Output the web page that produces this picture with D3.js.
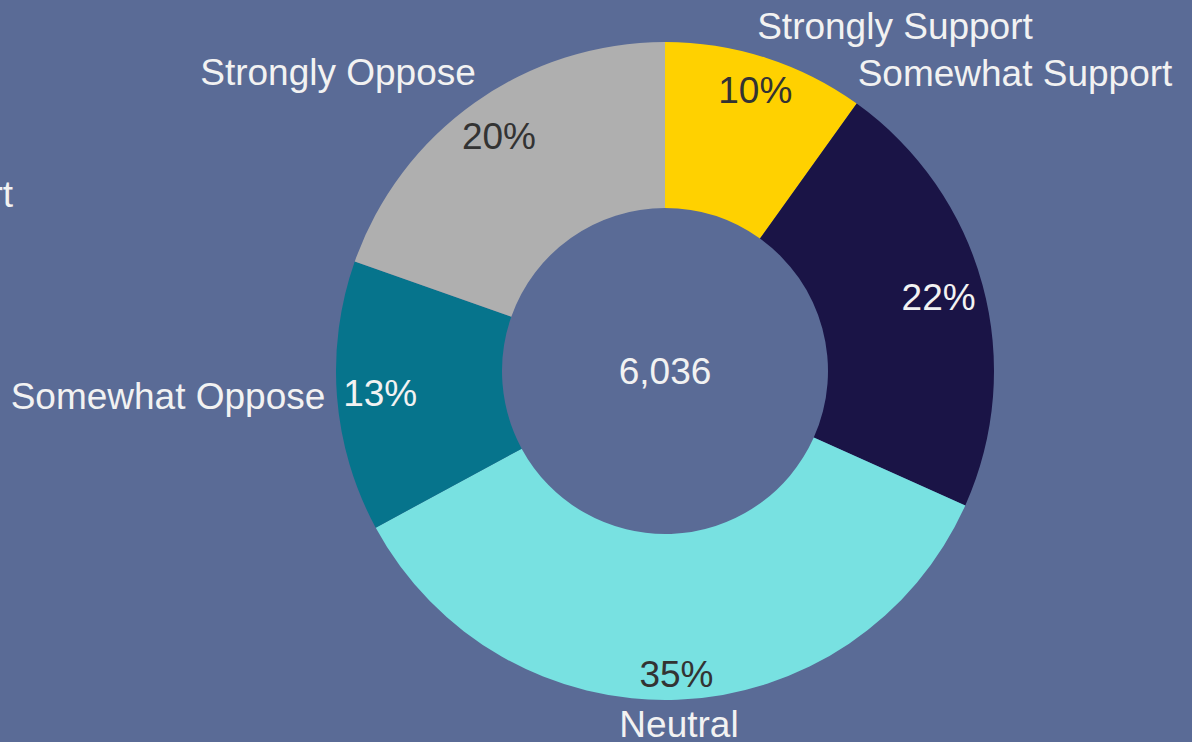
<!DOCTYPE html>
<html>
<head>
<meta charset="utf-8">
<script src="https://cdn.jsdelivr.net/npm/d3@7"></script>
<style>
  html, body { margin: 0; padding: 0; background: #5A6B96; }
  svg { display: block; }
  text { font-family: "Liberation Sans", Arial, sans-serif; }
</style>
</head>
<body>
<svg id="chart" width="1192" height="742"></svg>
<script>
// ---- data ----
const categories = ["Strongly Support", "Somewhat Support", "Neutral", "Somewhat Oppose", "Strongly Oppose"];
const values = [9.9, 21.8, 35.4, 13.3, 19.6];   // shares in %
const colors = ["#FFD100", "#1A1446", "#78E1E1", "#06748C", "#AFAFAF"];
const pctTextColors = ["#333333", "#F2F2F2", "#333333", "#F2F2F2", "#333333"];
const totalLabel = "6,036";
const strayLabel = "Somewhat Support";

// ---- layout ----
const W = 1192, H = 742;
const cx = 665, cy = 371, R = 329, r0 = 163;
const fontSize = 37;
// manual category label placement (offset of text centre / baseline from chart centre)
const catOffsets = {
  "Strongly Support": [230, -332],
  "Somewhat Support": [350, -285],
  "Neutral": [14, 366],
  "Somewhat Oppose": [-497, 38],
  "Strongly Oppose": [-327, -286]
};

const svg = d3.select("#chart");
svg.append("rect").attr("width", W).attr("height", H).attr("fill", "#5A6B96");

const g = svg.append("g").attr("transform", `translate(${cx},${cy})`);

const pie = d3.pie().sort(null).value(d => d.v);
const arcs = pie(categories.map((c, i) => ({ c, v: values[i], i })));
const arc = d3.arc().innerRadius(r0).outerRadius(R);

g.selectAll("path.slice").data(arcs).join("path")
  .attr("class", "slice")
  .attr("d", arc)
  .attr("fill", d => colors[d.data.i]);

// percentage labels: "inside end" placement
const pctG = g.selectAll("text.pct").data(arcs).join("text")
  .attr("class", "pct")
  .attr("text-anchor", "middle")
  .attr("dominant-baseline", "central")
  .attr("font-size", fontSize)
  .attr("fill", d => pctTextColors[d.data.i])
  .text(d => Math.round(d.data.v) + "%");

pctG.each(function(d) {
  const w = this.getComputedTextLength();
  const h = fontSize;
  const a = (d.startAngle + d.endAngle) / 2;
  const dx = Math.sin(a), dy = -Math.cos(a);
  const ext = Math.abs(dx) * w / 2 + Math.abs(dy) * h / 2;
  const rr = R - 5 - ext;
  d3.select(this).attr("x", dx * rr).attr("y", dy * rr);
});

// category labels
g.selectAll("text.cat").data(arcs).join("text")
  .attr("class", "cat")
  .attr("text-anchor", "middle")
  .attr("font-size", fontSize)
  .attr("fill", "#F2F2F2")
  .attr("x", d => catOffsets[d.data.c][0])
  .attr("y", d => catOffsets[d.data.c][1])
  .text(d => d.data.c);

// centre total
g.append("text")
  .attr("text-anchor", "middle")
  .attr("dominant-baseline", "central")
  .attr("font-size", fontSize)
  .attr("fill", "#F2F2F2")
  .attr("y", 0)
  .text(totalLabel);

// clipped stray label at left edge (as in the reference)
svg.append("text")
  .attr("x", 13)
  .attr("y", 207)
  .attr("text-anchor", "end")
  .attr("font-size", fontSize)
  .attr("fill", "#F2F2F2")
  .text(strayLabel);
</script>
</body>
</html>
